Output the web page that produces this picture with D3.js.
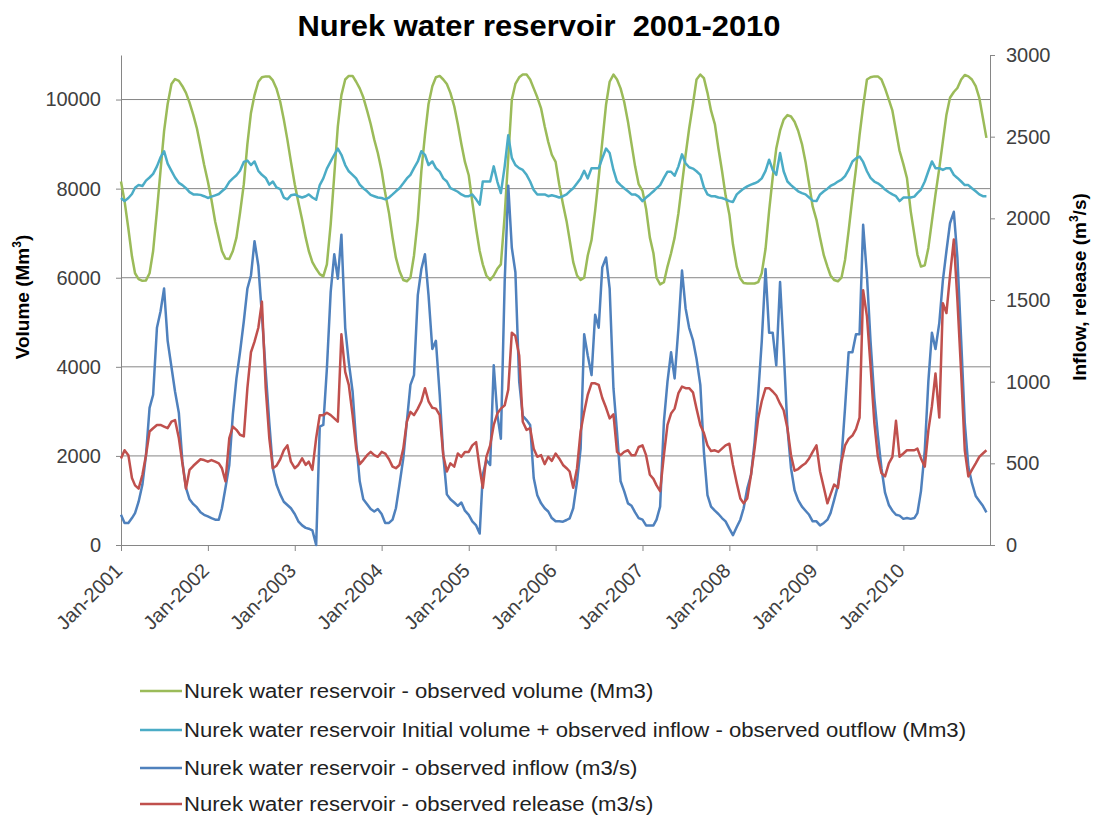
<!DOCTYPE html>
<html>
<head>
<meta charset="UTF-8" />
<style>
    body { margin: 0; background: #fff; }
    svg { font-family: "Liberation Sans", Arial, sans-serif; }
    .title {
        font-family: "Liberation Sans Narrow", "Arial Narrow", "Liberation Sans", sans-serif;
        font-weight: bold;
        font-size: 29px;
        text-anchor: middle;
        white-space: pre;
    }
    .axis text { font-size: 20px; fill: #404040; }
    .axis path, .axis line { stroke: #868686; }
    .grid line { stroke: #868686; }
    .ytitle { font-weight: bold; font-size: 19px; text-anchor: middle; }
    .legend text {
        font-family: "Liberation Sans Narrow", "Arial Narrow", "Liberation Sans", sans-serif;
        font-size: 20px;
        fill: #222;
    }
</style>
<script src="https://d3js.org/d3.v7.min.js"></script>
</head>
<body>
<svg width="1096" height="820"></svg>
<script>

// one value every half month (1st and 16th), Jan 2001 .. Dec 2010
var years = [2001, 2002, 2003, 2004, 2005, 2006, 2007, 2008, 2009, 2010];

// observed volume (Mm3) - left axis
var volume = [
    8160, 7720, 7100, 6480, 6100, 5970, 5930, 5940, 6100, 6600, 7500, 8400, 9290, 9900, 10350, 10460, 10420, 10300, 10150, 9930, 9650, 9350, 8950, 8540,
    8160, 7750, 7250, 6900, 6600, 6430, 6420, 6600, 6900, 7450, 8100, 9000, 9700, 10100, 10400, 10500, 10520, 10520, 10430, 10250, 9950, 9550, 9100, 8600,
    8100, 7700, 7300, 6900, 6600, 6350, 6200, 6080, 6030, 6300, 7200, 8300, 9400, 10100, 10450, 10530, 10530, 10400, 10250, 10050, 9750, 9450, 9100, 8800,
    8400, 7900, 7450, 6900, 6450, 6150, 5950, 5920, 6000, 6500, 7300, 8400, 9200, 9900, 10300, 10500, 10530, 10450, 10350, 10150, 9850, 9450, 9000, 8600,
    8300, 7700, 7100, 6600, 6300, 6050, 5950, 6050, 6200, 6300, 7400, 8700, 10000, 10350, 10500, 10560, 10560, 10450, 10250, 10050, 9800, 9400, 9050, 8760,
    8600, 8100, 7650, 7270, 6850, 6350, 6050, 5950, 6000, 6500, 6850, 7500, 8250, 9050, 9890, 10400, 10560, 10450, 10250, 9950, 9500, 9000, 8500, 8100,
    7950, 7550, 6900, 6550, 6000, 5850, 5900, 6250, 6550, 6900, 7450, 8100, 8750, 9350, 9900, 10450, 10560, 10480, 10150, 9750, 9450, 8900, 8400, 7850,
    7420, 6750, 6250, 5980, 5880, 5870, 5870, 5870, 5900, 6100, 6650, 7500, 8250, 8900, 9300, 9550, 9650, 9620, 9500, 9300, 9000, 8600, 8100, 7600,
    7300, 6900, 6500, 6250, 6050, 5950, 5920, 6000, 6400, 7050, 7800, 8450, 9200, 9850, 10450, 10500, 10520, 10520, 10450, 10250, 10000, 9750, 9300, 8850,
    8550, 8240, 7490, 6970, 6520, 6250, 6280, 6670, 7270, 7870, 8460, 9060, 9660, 10040, 10170, 10260, 10450, 10550, 10520, 10450, 10300, 10040, 9590, 9140
];

// initial volume + observed inflow - observed outflow (Mm3) - left axis
var balance = [
    7790, 7720, 7790, 7880, 8020, 8080, 8060, 8180, 8250, 8330, 8500, 8700, 8840, 8560, 8400, 8250, 8130, 8080, 8010, 7920, 7870, 7870, 7860, 7830,
    7790, 7820, 7850, 7880, 7940, 8010, 8150, 8230, 8300, 8400, 8600, 8630, 8530, 8610, 8400, 8310, 8240, 8090, 8160, 8030, 7990, 7800, 7760, 7850,
    7870, 7830, 7800, 7830, 7870, 7800, 7750, 8080, 8230, 8450, 8610, 8760, 8900, 8760, 8530, 8390, 8310, 8230, 8090, 8010, 7940, 7860, 7830, 7800,
    7790, 7760, 7800, 7870, 7940, 8010, 8120, 8230, 8310, 8460, 8610, 8840, 8760, 8530, 8610, 8460, 8380, 8230, 8160, 8010, 7970, 7930, 7870, 7830,
    7830, 7870, 7760, 7640, 8160, 8160, 8160, 8500, 8160, 7900, 8500, 9200, 8690, 8530, 8460, 8420, 8310, 8160, 7970, 7870, 7870, 7870, 7830, 7850,
    7830, 7800, 7830, 7870, 7940, 8010, 8120, 8230, 8400, 8230, 8460, 8460, 8460, 8680, 8900, 8800, 8420, 8160, 8080, 8010, 7940, 7870, 7870, 7820,
    7720, 7800, 7870, 7940, 8010, 8080, 8240, 8380, 8380, 8290, 8500, 8770, 8570, 8480, 8450, 8390, 8310, 8030, 7870, 7830, 7830, 7800, 7790, 7760,
    7720, 7700, 7870, 7940, 8000, 8050, 8090, 8120, 8160, 8230, 8400, 8650, 8420, 8310, 8800, 8390, 8160, 8080, 8010, 7940, 7900, 7870, 7800, 7730,
    7720, 7870, 7940, 8000, 8060, 8100, 8160, 8200, 8280, 8420, 8610, 8680, 8720, 8600, 8390, 8240, 8160, 8120, 8060, 7980, 7920, 7870, 7830, 7720,
    7800, 7800, 7800, 7820, 7900, 7980, 8160, 8390, 8610, 8460, 8460, 8420, 8460, 8460, 8310, 8240, 8160, 8080, 8080, 8010, 7940, 7870, 7830, 7830
];

// observed inflow (m3/s) - right axis
var inflow = [
    185, 135, 135, 165, 195, 265, 370, 550, 840, 920, 1330, 1430, 1570, 1250, 1090, 940, 810, 510, 350, 280, 250, 230, 200, 185,
    175, 165, 155, 155, 225, 350, 490, 800, 1020, 1180, 1370, 1570, 1650, 1860, 1710, 1410, 1060, 750, 470, 370, 310, 265, 245, 225,
    190, 145, 120, 105, 100, 90, 0, 725, 735, 1080, 1550, 1780, 1630, 1900, 1330, 1120, 940, 630, 390, 280, 250, 220, 205, 220,
    190, 135, 135, 155, 225, 370, 530, 755, 980, 1040, 1530, 1690, 1780, 1530, 1200, 1250, 920, 550, 310, 280, 260, 240, 260, 210,
    185, 145, 120, 70, 430, 520, 490, 1100, 800, 650, 1610, 2200, 1820, 1670, 1000, 790, 765, 735, 410, 305, 255, 225, 205, 165,
    145, 145, 143, 153, 163, 225, 390, 590, 1290, 1160, 1040, 1410, 1330, 1700, 1760, 1570, 960, 690, 390, 330, 255, 240, 200, 165,
    155, 120, 120, 120, 155, 235, 755, 1000, 1180, 1020, 1330, 1680, 1450, 1330, 1255, 1140, 980, 570, 305, 235, 210, 190, 165, 145,
    100, 60, 110, 155, 225, 345, 430, 630, 920, 1245, 1690, 1300, 1300, 1100, 1610, 1200, 715, 470, 335, 275, 235, 210, 185, 145,
    145, 120, 135, 155, 195, 275, 365, 530, 840, 1180, 1180, 1290, 1290, 1960, 1650, 1250, 900, 670, 470, 320, 245, 210, 185, 180,
    160, 165, 160, 165, 195, 330, 580, 1000, 1300, 1200, 1360, 1620, 1800, 1970, 2040, 1760, 1250, 750, 480, 380, 300, 270, 240, 200
];

// observed release (m3/s) - right axis
var release = [
    530, 580, 550, 410, 365, 345, 430, 550, 695, 715, 735, 735, 725, 715, 755, 765, 655, 500, 345, 460, 485, 505, 525, 520,
    510, 520, 510, 500, 470, 390, 655, 725, 705, 675, 665, 960, 1180, 1245, 1330, 1490, 960, 655, 470, 485, 525, 580, 610, 510,
    470, 490, 530, 490, 510, 460, 655, 795, 795, 810, 795, 775, 755, 1290, 1060, 980, 795, 590, 495, 520, 550, 570, 550, 540,
    570, 560, 525, 480, 470, 490, 590, 755, 815, 795, 835, 880, 960, 880, 840, 835, 795, 550, 450, 500, 480, 560, 540, 570,
    570, 610, 630, 470, 350, 540, 610, 735, 805, 835, 855, 950, 1300, 1280, 1160, 755, 705, 715, 590, 540, 550, 495, 540, 515,
    560, 530, 490, 470, 450, 350, 470, 695, 815, 920, 990, 990, 980, 900, 840, 775, 800, 570, 550, 570, 580, 550, 550, 600,
    610, 550, 430, 405, 365, 330, 550, 735, 805, 835, 930, 970, 960, 960, 935, 835, 735, 685, 610, 575, 580, 570, 590, 610,
    620, 490, 380, 285, 255, 285, 430, 590, 775, 880, 960, 960, 940, 915, 865, 825, 715, 550, 455, 465, 485, 500, 530, 570,
    610, 450, 350, 255, 310, 370, 350, 510, 610, 650, 670, 710, 780, 1560, 1400, 1100, 750, 540, 440, 420, 500, 540, 760, 540,
    560, 580, 580, 580, 590, 530, 480, 700, 850, 1050, 780, 1480, 1420, 1650, 1870, 1500, 1050, 580, 420, 460, 500, 540, 560, 580
];

var leftTicks = [0, 2000, 4000, 6000, 8000, 10000];
var rightTicks = [0, 500, 1000, 1500, 2000, 2500, 3000];

var seriesNames = [
    "Nurek water reservoir - observed volume (Mm3)",
    "Nurek water reservoir Initial volume + observed inflow - observed outflow (Mm3)",
    "Nurek water reservoir - observed inflow (m3/s)",
    "Nurek water reservoir - observed release (m3/s)"
];
var seriesColors = ["#9bbb59", "#4bacc6", "#4f81bd", "#c0504d"];

// dates: 1st and 16th of each month
var dates = [];
years.forEach(function(y) {
    for (var m = 0; m < 12; m++) {
        dates.push(new Date(Date.UTC(y, m, 1)));
        dates.push(new Date(Date.UTC(y, m, 16)));
    }
});

var svg = d3.select("svg");
var plotLeft = 121, plotRight = 990, plotTop = 55, plotBottom = 545;

var x = d3.scaleUtc()
    .domain([new Date(Date.UTC(2001, 0, 1)), new Date(Date.UTC(2010, 11, 31))])
    .range([plotLeft, plotRight]);
var yL = d3.scaleLinear().domain([0, 11000]).range([plotBottom, plotTop]);
var yR = d3.scaleLinear().domain([0, 3000]).range([plotBottom, plotTop]);

// grid
svg.append("g").attr("class", "grid")
   .selectAll("line")
   .data(leftTicks.slice(1))
   .enter().append("line")
   .attr("x1", plotLeft).attr("x2", plotRight)
   .attr("y1", function(d) { return yL(d); })
   .attr("y2", function(d) { return yL(d); });

// axes
svg.append("g").attr("class", "axis")
    .attr("transform", "translate(" + plotLeft + ",0)")
    .call(d3.axisLeft(yL).tickValues(leftTicks).tickSize(5).tickSizeOuter(0).tickPadding(15).tickFormat(d3.format("d")));

svg.append("g").attr("class", "axis")
    .attr("transform", "translate(" + plotRight + ",0)")
    .call(d3.axisRight(yR).tickValues(rightTicks).tickSize(5).tickSizeOuter(0).tickPadding(11).tickFormat(d3.format("d")));

var yearTicks = years.map(function(y) { return new Date(Date.UTC(y, 0, 1)); });
var axB = svg.append("g").attr("class", "axis")
    .attr("transform", "translate(0," + plotBottom + ")")
    .call(d3.axisBottom(x).tickValues(yearTicks).tickSize(6).tickSizeOuter(0).tickFormat(d3.utcFormat("%b-%Y")));
axB.selectAll("text")
   .attr("x", 0).attr("y", 0).attr("dy", 0)
   .attr("text-anchor", "end")
   .attr("transform", "translate(2,27) rotate(-45)");

// lines
var allSeries = [
    { values: volume, y: yL },
    { values: balance, y: yL },
    { values: inflow, y: yR },
    { values: release, y: yR }
];

allSeries.forEach(function(s, i) {
    var line = d3.line()
        .x(function(d, j) { return x(dates[j]); })
        .y(function(d) { return s.y(d); });
    svg.append("path")
       .datum(s.values)
       .attr("fill", "none")
       .attr("stroke", seriesColors[i])
       .attr("stroke-width", 2.5)
       .attr("stroke-linejoin", "round")
       .attr("d", line);
});

// title
svg.append("text").attr("class", "title")
    .attr("x", 539).attr("y", 36)
    .attr("textLength", 483).attr("lengthAdjust", "spacingAndGlyphs")
    .text("Nurek water reservoir  2001-2010");

// axis titles
var tl = svg.append("text").attr("class", "ytitle")
    .attr("transform", "translate(29,297) rotate(-90)");
tl.append("tspan").text("Volume (Mm");
tl.append("tspan").attr("font-size", "12px").attr("dy", "-8").text("3");
tl.append("tspan").attr("dy", "8").text(")");

var tr = svg.append("text").attr("class", "ytitle")
    .attr("transform", "translate(1086,287) rotate(-90)");
tr.append("tspan").text("Inflow, release (m");
tr.append("tspan").attr("font-size", "12px").attr("dy", "-8").text("3");
tr.append("tspan").attr("dy", "8").text("/s)");

// legend
var legY = [691, 730, 768, 804];
var legend = svg.append("g").attr("class", "legend");
var rows = legend.selectAll("g")
    .data(seriesNames)
    .enter().append("g")
    .attr("transform", function(d, i) { return "translate(140," + legY[i] + ")"; });
rows.append("line")
    .attr("x1", 0).attr("x2", 42)
    .attr("stroke", function(d, i) { return seriesColors[i]; })
    .attr("stroke-width", 2.5);
var legText = rows.append("text")
    .attr("x", 44).attr("dy", "0.35em")
    .text(function(d) { return d; });

// squeeze legend text to the condensed width seen in the original
var w2 = legText.nodes()[1].getComputedTextLength();
var k = 782 / w2;
legText.each(function() {
    var w = this.getComputedTextLength();
    d3.select(this).attr("textLength", w * k).attr("lengthAdjust", "spacingAndGlyphs");
});
</script>
</body>
</html>
